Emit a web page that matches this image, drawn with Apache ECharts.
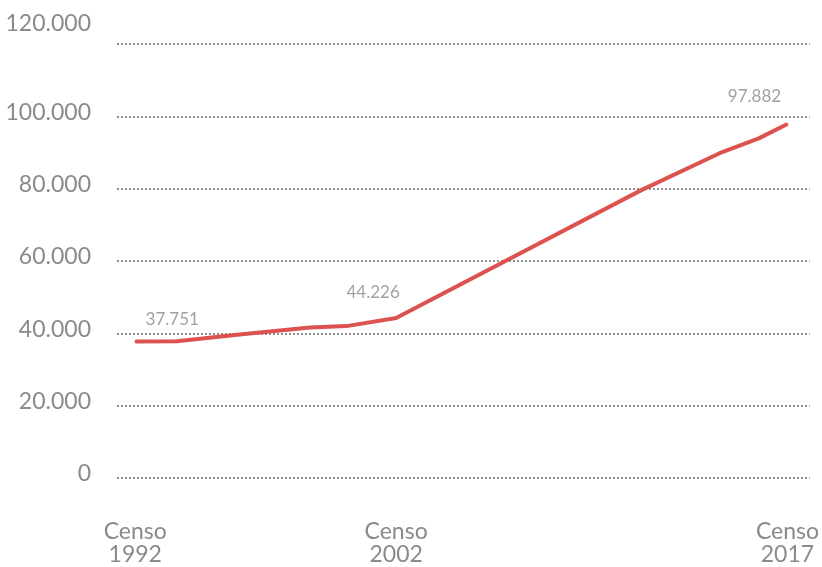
<!DOCTYPE html>
<html>
<head>
<meta charset="utf-8">
<script src="https://cdn.jsdelivr.net/npm/echarts@6/dist/echarts.min.js"></script>
<style>
html,body{margin:0;padding:0;background:#fff;}
#c{width:822px;height:567px;}
</style>
</head>
<body>
<div id="c"></div>
<script>
// Years (fractional positions) and population values
const years = [1992, 1993.6, 1996.0, 1998.7, 2000.1, 2002, 2003.8, 2011.4, 2014.4, 2015.9, 2017];
const population = [37751, 37800, 39700, 41600, 42000, 44226, 51000, 79600, 89800, 93900, 97882];
const censusYears = [1992, 2002, 2017];
const censusLabelOffsets = { 1992: [37, -22], 2002: [-23, -26], 2017: [-33, -27] };
const yTicks = [0, 20000, 40000, 60000, 80000, 100000, 120000];

function fmt(v) {
  return String(Math.round(v)).replace(/\B(?=(\d{3})+(?!\d))/g, '.');
}

const GRAY = '#8a8a8a';
const FONT = 'Lato';
const RED = '#dc524e';

const lineData = years.map((y, i) => [y, population[i]]);
const censusData = censusYears.map(y => {
  const i = years.indexOf(y);
  return {
    value: [y, population[i]],
    label: { offset: censusLabelOffsets[y] }
  };
});

const chart = echarts.init(document.getElementById('c'), null, { renderer: 'canvas' });
chart.setOption({
  animation: false,
  backgroundColor: '#ffffff',
  grid: { left: 117, right: 10, top: 44, bottom: 89, containLabel: false },
  xAxis: {
    type: 'value',
    min: 1991.3,
    max: 2017.85,
    axisLine: { show: false },
    axisTick: { show: false },
    splitLine: { show: false },
    axisLabel: {
      customValues: censusYears,
      formatter: v => 'Censo\n' + v,
      color: GRAY,
      fontSize: 23,
      fontFamily: FONT,
      lineHeight: 23,
      margin: 42
    }
  },
  yAxis: {
    type: 'value',
    min: 0,
    max: 120000,
    interval: 20000,
    axisLine: { show: false },
    axisTick: { show: false },
    splitLine: { show: true, lineStyle: { color: '#8f8f8f', width: 2, type: [2, 2] } },
    axisLabel: {
      margin: 26,
      color: GRAY,
      fontSize: 23,
      fontFamily: FONT,
      formatter: v => (v === 120000 ? '{t|' + fmt(v) + '}' : '{n|' + fmt(v) + '}'),
      rich: {
        t: { color: GRAY, fontSize: 23, fontFamily: FONT, padding: [0, 0, 40, 0] },
        n: { color: GRAY, fontSize: 23, fontFamily: FONT, padding: [0, 0, 8, 0] }
      }
    }
  },
  series: [{
    type: 'line',
    data: lineData,
    symbol: 'none',
    lineStyle: { color: RED, width: 4 },
    itemStyle: { color: RED },
    z: 2
  }, {
    type: 'scatter',
    data: censusData,
    symbolSize: 2,
    itemStyle: { color: RED },
    z: 3,
    label: {
      show: true,
      position: 'inside',
      formatter: p => fmt(p.value[1]),
      color: GRAY,
      fontSize: 17,
      fontFamily: FONT
    }
  }]
});
</script>
</body>
</html>
